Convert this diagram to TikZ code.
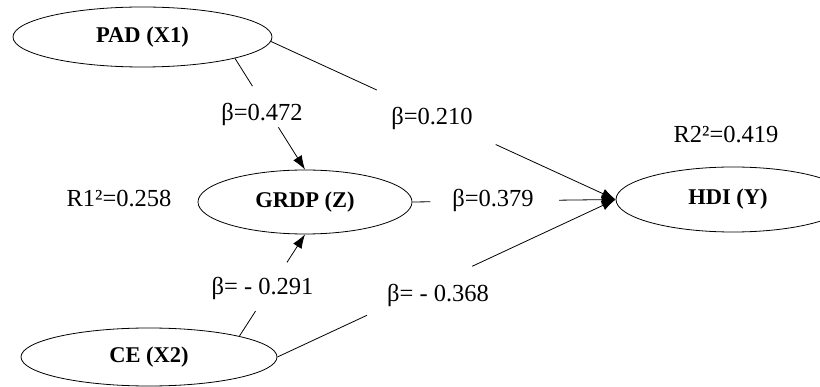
\documentclass[tikz,border=0pt]{standalone}
\usepackage{fontspec}
\setmainfont{Liberation Serif}
\usetikzlibrary{shapes.geometric,arrows.meta,calc}
\begin{document}
\begin{tikzpicture}[x=1pt,y=-1pt,
  var/.style={ellipse, draw, line width=0.8pt, inner sep=0pt, font=\fontsize{22.5}{25}\selectfont\bfseries},
  coef/.style={inner sep=0pt, font=\fontsize{24.5}{28}\selectfont, anchor=base},
  link/.style={line width=0.8pt},
  arr/.style={link, -{Latex[length=14pt,width=10pt]}}]
\clip (0,0) rectangle (820,387);
% variables
\node[var, minimum width=259pt, minimum height=60pt] (pad) at (142.5,37) {PAD (X1)};
\node[var, minimum width=214pt, minimum height=64pt] (grdp) at (305,202) {GRDP (Z)};
\node[var, minimum width=234pt, minimum height=65pt] (hdi) at (733,199.5) {\hspace*{-10pt}HDI (Y)};
\node[var, minimum width=256pt, minimum height=58pt] (ce) at (149,357) {CE (X2)};
% coefficients
\node[coef] (b1) at (262,121) {β=0.472};
\node[coef] (b2) at (432,125) {β=0.210};
\node[coef] (b3) at (493,207) {β=0.379};
\node[coef] (b4) at (262.5,295) {β= - 0.291};
\node[coef] (b5) at (438,302) {β= - 0.368};
\node[coef] (r1) at (119,207) {R1²=0.258};
\node[coef] (r2) at (726,143) {R2²=0.419};
% paths
\draw[link] (pad.-13) -- ($(pad.-13)!0.25!(grdp.north)$);
\draw[arr] ($(pad.-13)!0.62!(grdp.north)$) -- (grdp.north);
\draw[link] (pad.-2) -- ($(pad.-2)!0.307!(hdi.west)$);
\draw[arr] ($(pad.-2)!0.652!(hdi.west)$) -- (hdi.west);
\draw[link] (grdp.east) -- ($(grdp.east)!0.088!(hdi.west)$);
\draw[arr] ($(grdp.east)!0.722!(hdi.west)$) -- (hdi.west);
\draw[link] (ce.13) -- ($(ce.13)!0.245!(grdp.south)$);
\draw[arr] ($(ce.13)!0.725!(grdp.south)$) -- (grdp.south);
\draw[link] (ce.east) -- ($(ce.east)!0.265!(hdi.west)$);
\draw[arr] ($(ce.east)!0.576!(hdi.west)$) -- (hdi.west);
\end{tikzpicture}
\end{document}
